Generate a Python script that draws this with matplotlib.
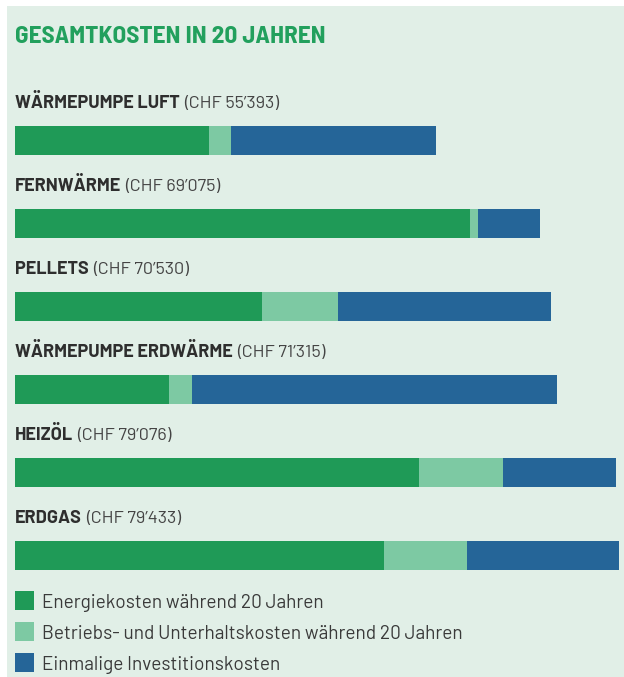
import matplotlib
matplotlib.use("Agg")
import matplotlib.pyplot as plt
from matplotlib.patches import Rectangle
import numpy as np

# ---- data ----
title = "GESAMTKOSTEN IN 20 JAHREN"
categories = ["WÄRMEPUMPE LUFT", "FERNWÄRME", "PELLETS",
              "WÄRMEPUMPE ERDWÄRME", "HEIZÖL", "ERDGAS"]
totals_text = ["(CHF 55’393)", "(CHF 69’075)", "(CHF 70’530)",
               "(CHF 71’315)", "(CHF 79’076)", "(CHF 79’433)"]
energy = [25450, 59830, 32460, 20270, 53120, 48500]
operation = [2890, 1050, 10040, 2980, 10990, 11000]
investment = [27053, 8195, 28030, 48065, 14966, 19933]
legend_labels = ["Energiekosten während 20 Jahren",
                 "Betriebs- und Unterhaltskosten während 20 Jahren",
                 "Einmalige Investitionskosten"]

# ---- style ----
W, H = 624, 677
DPI = 100
BG = "#e1efe7"
C_ENERGY = "#1f9a57"
C_OPER = "#7dc9a3"
C_INV = "#256598"
TITLE_C = "#22a05d"
TXT = "#2e2e2e"
F_TITLE = ["Barlow Semi Condensed", "DejaVu Sans"]
F_LAB = ["Barlow", "DejaVu Sans"]
F_LEG = ["Barlow", "DejaVu Sans"]

fig = plt.figure(figsize=(W / DPI, H / DPI), dpi=DPI, facecolor="white")

def fx(px):
    return px / W

def fy(py):
    return 1 - py / H

# background panel
fig.patches.append(Rectangle((fx(7), 0), 1 - fx(7), fy(6), transform=fig.transFigure,
                             facecolor=BG, edgecolor="none", zorder=-10))

# axes: x in CHF, y in pixel rows (top=0)
K = 131.5  # CHF per pixel
x0 = 15
ax = fig.add_axes([0, 0, 1, 1])
ax.set_zorder(1)
ax.set_facecolor("none")
ax.set_xlim(-x0 * K, (W - x0) * K)
ax.set_ylim(H, 0)
ax.axis("off")

n = len(categories)
ypos = 140.5 + 83 * np.arange(n)
bh = 29
energy_a = np.array(energy)
oper_a = np.array(operation)
inv_a = np.array(investment)
ax.barh(ypos, energy_a, height=bh, color=C_ENERGY, linewidth=0)
ax.barh(ypos, oper_a, left=energy_a, height=bh, color=C_OPER, linewidth=0)
ax.barh(ypos, inv_a, left=energy_a + oper_a, height=bh, color=C_INV, linewidth=0)

# title
fig.text(fx(15), fy(43), title, color=TITLE_C, fontsize=18.2, fontweight="bold",
         family=F_TITLE, va="baseline", ha="left")

# category labels
renderer = fig.canvas.get_renderer()
for i, (cat, tot) in enumerate(zip(categories, totals_text)):
    by = 108 + 83 * i
    t = fig.text(fx(15), fy(by), cat, color=TXT, fontsize=13, fontweight="bold",
                 family=F_LAB, va="baseline", ha="left")
    bb = t.get_window_extent(renderer=renderer)
    fig.text(bb.x1 / W + fx(4), fy(by), tot, color="#444444", fontsize=13,
             family=F_LAB, va="baseline", ha="left")

# legend
leg_colors = [C_ENERGY, C_OPER, C_INV]
for i, (lab, col) in enumerate(zip(legend_labels, leg_colors)):
    top = 591 + 31 * i
    fig.patches.append(Rectangle((fx(15), fy(top + 19)), fx(19), 19 / H,
                                 transform=fig.transFigure, facecolor=col,
                                 edgecolor="none", zorder=2))
    fig.text(fx(42), fy(top + 17), lab, color="#3a3a3a", fontsize=13.7,
             family=F_LEG, va="baseline", ha="left")

fig.savefig("out.png", dpi=DPI, facecolor="white")
